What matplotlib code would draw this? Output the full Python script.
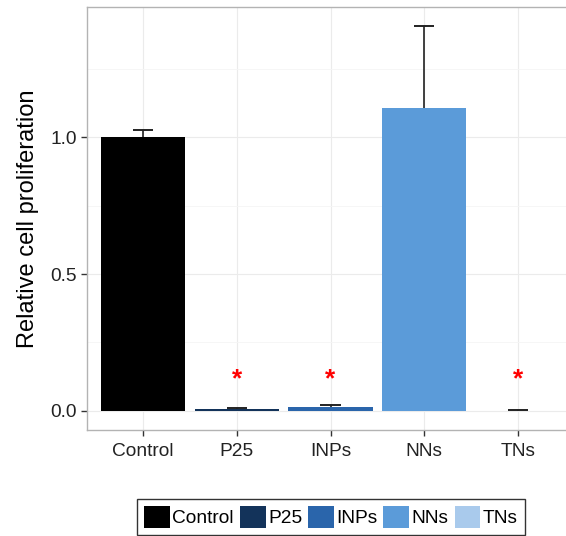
import numpy as np
import matplotlib
matplotlib.use('Agg')
import matplotlib.pyplot as plt
from matplotlib.patches import Patch

plt.rcParams['font.family'] = ['Liberation Sans', 'DejaVu Sans']

groups = ['Control', 'P25', 'INPs', 'NNs', 'TNs']
means = [1.0, 0.005, 0.013, 1.106, 0.001]
errs = [0.027, 0.004, 0.007, 0.300, 0.002]
colors = ['#000000', '#13335A', '#2A65AB', '#5B9BD9', '#A9CAEC']
signif = [False, True, True, False, True]
star_y = 0.117

fig = plt.figure(figsize=(5.66, 5.36), dpi=100)
ax = fig.add_axes([87/566, 106/536, 487/566, 423/536])

x = np.arange(1, len(groups) + 1)
means = np.array(means)
errs = np.array(errs)
ax.bar(x, means, width=0.9, color=colors, zorder=2)
# only the upper whisker is visible in the original
ax.vlines(x, means, means + errs, color='#222222', lw=1.2, zorder=3)
ax.hlines(means + errs, x - 0.11, x + 0.11, color='#222222', lw=1.4, zorder=3)
for xi, s in zip(x, signif):
    if s:
        ax.text(xi, star_y, '*', color='red', ha='center', va='center',
                fontsize=19, fontweight='bold', zorder=4)

ax.set_xlim(0.4, 5.6)
ax.set_ylim(-0.070, 1.476)
ax.set_xticks(x)
ax.set_xticklabels(groups)
ax.set_yticks([0.0, 0.5, 1.0])
ax.set_yticklabels(['0.0', '0.5', '1.0'])
ax.set_yticks([0.25, 0.75, 1.25], minor=True)
ax.grid(True, which='major', color='#EBEBEB', lw=0.8, zorder=0)
ax.grid(True, which='minor', axis='y', color='#F5F5F5', lw=0.6, zorder=0)
ax.set_axisbelow(True)
ax.tick_params(axis='both', which='major', labelsize=13.8, length=4,
               color='#333333', labelcolor='#222222', width=1)
ax.tick_params(axis='x', pad=5)
ax.tick_params(axis='y', which='minor', length=0)
for sp in ax.spines.values():
    sp.set_color('#B3B3B3')
    sp.set_linewidth(1)
ax.set_ylabel('Relative cell proliferation', fontsize=17, labelpad=8)

handles = [Patch(facecolor=c, edgecolor='none') for c in colors]
leg = fig.legend(handles, groups, loc='center', bbox_to_anchor=(331/566, 19/536),
                 ncol=5, fontsize=13.8, handlelength=1.35, handleheight=1.35,
                 handletextpad=0.12, columnspacing=0.31, borderpad=0.4,
                 frameon=True, fancybox=False, edgecolor='black')
leg.get_frame().set_linewidth(1)

fig.savefig('out.png', dpi=100)
